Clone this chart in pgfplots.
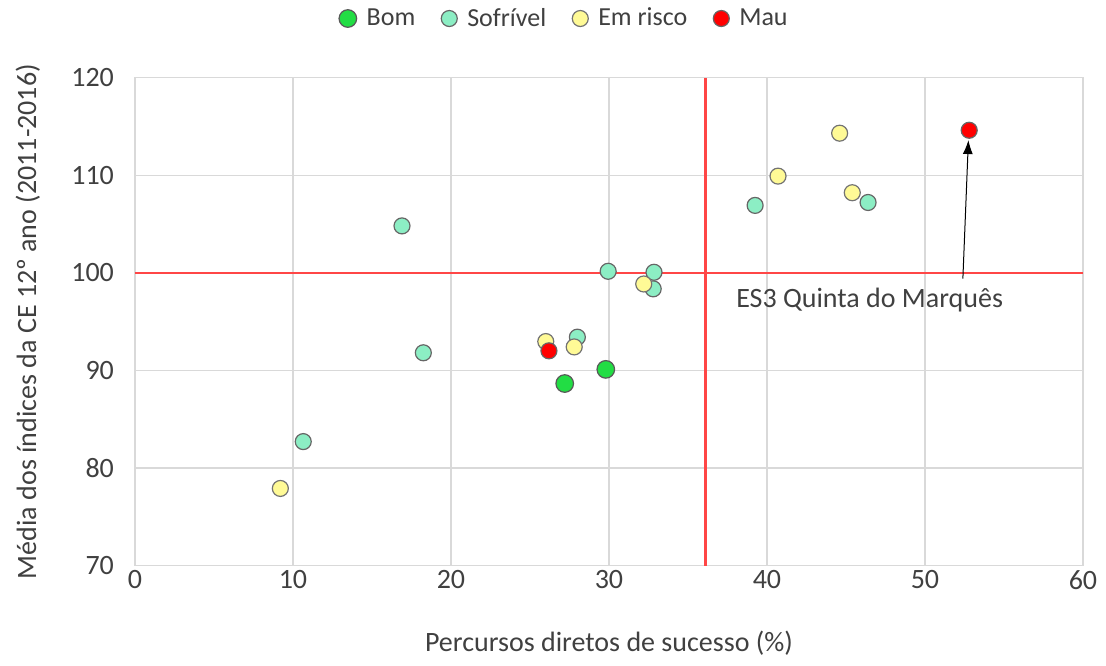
\documentclass[border=0pt]{standalone}
\usepackage{fontspec}
\setmainfont{Carlito}
\usepackage{pgfplots}
\pgfplotsset{compat=1.18}
\usetikzlibrary{arrows.meta}

\definecolor{bom}{RGB}{34,221,68}
\definecolor{sofrivel}{RGB}{140,238,196}
\definecolor{risco}{RGB}{255,250,150}
\definecolor{mau}{RGB}{255,0,0}
\definecolor{gridgray}{RGB}{217,217,217}
\definecolor{txt}{RGB}{64,64,64}
\definecolor{refline}{RGB}{255,70,70}

\begin{document}
\begin{tikzpicture}
\begin{axis}[
  scale only axis,
  width=474pt, height=244pt,
  xmin=0, xmax=60, ymin=70, ymax=120,
  xtick={0,10,...,60}, ytick={70,80,...,120},
  grid=major,
  major grid style={gridgray, line width=0.6pt},
  axis line style={gridgray, line width=0.6pt},
  tick style={draw=none},
  ticklabel style={font=\fontsize{14}{16}\selectfont, text=txt},
  yticklabel shift=7pt,
  xticklabel shift=-1pt,
  /pgf/number format/assume math mode=true,
  xlabel={Percursos diretos de sucesso (\%)},
  ylabel={Média dos índices da CE 12º ano (2011-2016)},
  every axis x label/.style={at={(axis description cs:0.5,-0.16)}, anchor=center,
    font=\fontsize{14}{16}\selectfont, text=txt},
  every axis y label/.style={at={(axis description cs:-0.113,0.5)}, rotate=90, anchor=center,
    font=\fontsize{14}{16}\selectfont, text=txt},
  legend columns=4,
  legend style={at={(axis description cs:0.454,1.121)}, anchor=center, draw=none,
    font=\fontsize{13}{15}\selectfont, text=txt,
    /tikz/every odd column/.append style={column sep=3pt},
    /tikz/every even column/.append style={column sep=11pt}},
  legend image code/.code={\draw[#1] plot coordinates {(0.1cm,0cm)};},
  clip=false,
]
\path[use as bounding box] (axis description cs:-0.1424,-0.2049) rectangle (axis description cs:1.0243,1.1578);
\draw[refline, line width=1.2pt] (axis cs:0,100) -- (axis cs:60,100);
\draw[refline, line width=1.2pt] (axis cs:36.1,70) -- (axis cs:36.1,120);

\addplot[only marks, mark=*, mark size=4.4pt, mark options={fill=bom, draw=black!65, line width=0.6pt}]
  coordinates {(27.2,88.65) (29.8,90.1)};
\addlegendentry{Bom}

\addplot[only marks, mark=*, mark size=4pt, mark options={fill=sofrivel, draw=black!60, line width=0.6pt}]
  coordinates {(18.25,91.8) (28.0,93.4) (29.95,100.15) (32.85,100.05) (32.8,98.35)
               (16.9,104.8) (10.65,82.7) (39.25,106.9) (46.4,107.2)};
\addlegendentry{Sofrível}

\addplot[only marks, mark=*, mark size=4pt, mark options={fill=risco, draw=black!55, line width=0.6pt}]
  coordinates {(26.0,92.95) (27.8,92.4) (32.2,98.85) (40.7,109.9) (44.6,114.3)
               (45.4,108.2) (9.2,77.9)};
\addlegendentry{Em risco}

\addplot[only marks, mark=*, mark size=4pt, mark options={fill=mau, draw=black!60, line width=0.6pt}]
  coordinates {(26.2,92.0) (52.8,114.6)};
\addlegendentry{Mau}

\draw[black, line width=0.5pt, -{Latex[length=7pt, width=5pt]}] (axis cs:52.4,99.4) -- (axis cs:52.75,113.6);
\node[font=\fontsize{14}{16}\selectfont, text=txt] at (axis cs:46.5,97.2) {ES3 Quinta do Marquês};
\end{axis}
\end{tikzpicture}
\end{document}
